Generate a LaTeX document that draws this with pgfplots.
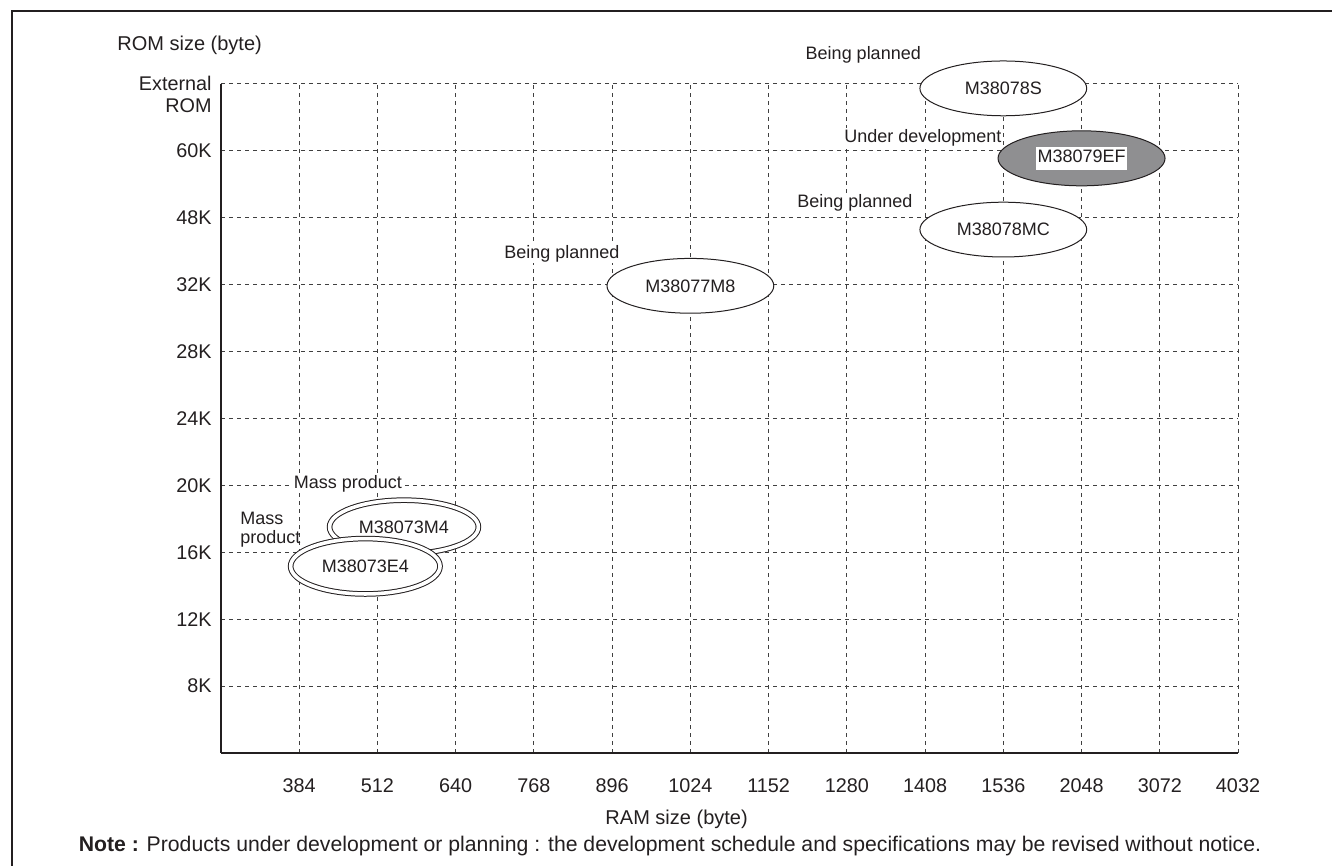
\documentclass[border=0pt]{standalone}
\usepackage{pgfplots}
\pgfplotsset{compat=1.18}
\usetikzlibrary{shapes.geometric}
\usepackage{fontspec}
\setmainfont{Liberation Sans}
\definecolor{ellgray}{RGB}{143,143,145}
\definecolor{ink}{RGB}{35,31,32}
\newcommand{\annfont}{\fontsize{9}{10}\selectfont}
\newcommand{\tickfont}{\fontsize{9.9}{11}\selectfont}
\newcommand{\labfont}{\fontsize{10}{11}\selectfont}
\begin{document}
\begin{tikzpicture}[font=\annfont, text=ink]
\useasboundingbox (0,0) rectangle (666pt,433pt);
\draw[line width=1pt, ink] (6pt,-5pt) -- (6pt,427.5pt) -- (700pt,427.5pt);
\begin{axis}[
  at={(110.5pt,56.5pt)}, anchor=south west,
  scale only axis, width=508.5pt, height=334.65pt,
  xmin=0, xmax=13, ymin=0, ymax=10,
  axis x line*=bottom, axis y line*=left,
  axis line style={-, line width=0.8pt, ink},
  xtick={1,...,13}, ytick={1,...,10},
  xticklabels={384,512,640,768,896,1024,1152,1280,1408,1536,2048,3072,4032},
  yticklabels={8K,12K,16K,20K,24K,28K,32K,48K,60K,{}},
  major tick length=0pt,
  grid=major,
  major grid style={dash pattern=on 2pt off 2pt, line width=0.5pt, black!75},
  xticklabel style={anchor=base, inner sep=0pt, yshift=-20pt, font=\tickfont},
  yticklabel style={anchor=east, inner sep=0pt, xshift=-4.5pt, font=\tickfont},
  xlabel={RAM size (byte)}, ylabel={ROM size (byte)},
  every axis x label/.style={at={(axis description cs:0.448,0)}, anchor=base, yshift=-36pt, inner sep=0pt, font=\labfont},
  every axis y label/.style={at={(axis description cs:0,1)}, anchor=base west, xshift=-52pt, yshift=16.5pt, inner sep=0pt, font=\labfont},
  clip=false,
  point meta=explicit symbolic,
]
% planned (white ellipses)
\addplot[only marks, mark=none, nodes near coords={\pgfplotspointmeta}, nodes near coords align=center,
  every node near coord/.append style={ellipse, draw=ink, line width=0.5pt, fill=white,
    minimum width=83.4pt, minimum height=27.4pt, inner sep=0pt, anchor=center, text=ink, font=\annfont}]
  table[meta=label] {
x y label
10 9.93 M38078S
10 7.82 M38078MC
6 6.98 M38077M8
};
% under development (grey ellipse)
\addplot[only marks, mark=none, nodes near coords={\setlength{\fboxsep}{0.6pt}\colorbox{white}{\strut\pgfplotspointmeta}}, nodes near coords align=center,
  every node near coord/.append style={ellipse, draw=ink, line width=0.5pt, fill=ellgray,
    minimum width=83.5pt, minimum height=27.5pt, inner sep=0pt, anchor=center, text=ink, font=\annfont}]
  table[meta=label] {
x y label
11 8.885 M38079EF
};
% mass products (double ellipses)
\addplot[only marks, mark=none, nodes near coords={\pgfplotspointmeta}, nodes near coords align=center,
  every node near coord/.append style={ellipse, draw=ink, double=white, double distance=1.8pt, line width=0.5pt, fill=white,
    minimum width=74.4pt, minimum height=26.8pt, inner sep=0pt, anchor=center, text=ink, font=\annfont}]
  table[meta=label] {
x y label
2.339 3.377 M38073M4
};
\addplot[only marks, mark=none, nodes near coords={\pgfplotspointmeta}, nodes near coords align=center,
  every node near coord/.append style={ellipse, draw=ink, double=white, double distance=1.8pt, line width=0.5pt, fill=white,
    minimum width=74.7pt, minimum height=27.7pt, inner sep=0pt, anchor=center, text=ink, font=\annfont}]
  table[meta=label] {
x y label
1.845 2.79 M38073E4
};
% status annotations
\node[anchor=base, inner sep=0.6pt, fill=white] at (axis cs:8.21,10.354) {Being planned};
\node[anchor=base, inner sep=0.6pt, fill=white] at (axis cs:8.973,9.12) {Under development};
\node[anchor=base, inner sep=0.6pt, fill=white] at (axis cs:8.104,8.147) {Being planned};
\node[anchor=base, inner sep=0.6pt, fill=white] at (axis cs:4.357,7.389) {Being planned};
\node[anchor=base, inner sep=0.6pt, fill=white] at (axis cs:1.622,3.955) {Mass product};
\node[anchor=base west, inner sep=0pt] at (axis cs:0.243,3.407) {Mass};
\node[anchor=base west, inner sep=0pt] at (axis cs:0.243,3.123) {product};
\node[anchor=base east, inner sep=0pt, font=\tickfont] at (axis cs:-0.115,9.895) {External};
\node[anchor=base east, inner sep=0pt, font=\tickfont] at (axis cs:-0.115,9.573) {ROM};
\end{axis}
\node[anchor=base, inner sep=0pt, font=\fontsize{10.6}{12}\selectfont] at (335pt,7pt) {\textbf{Note :} Products under development or planning : the development schedule and specifications may be revised without notice.};
\end{tikzpicture}
\end{document}
